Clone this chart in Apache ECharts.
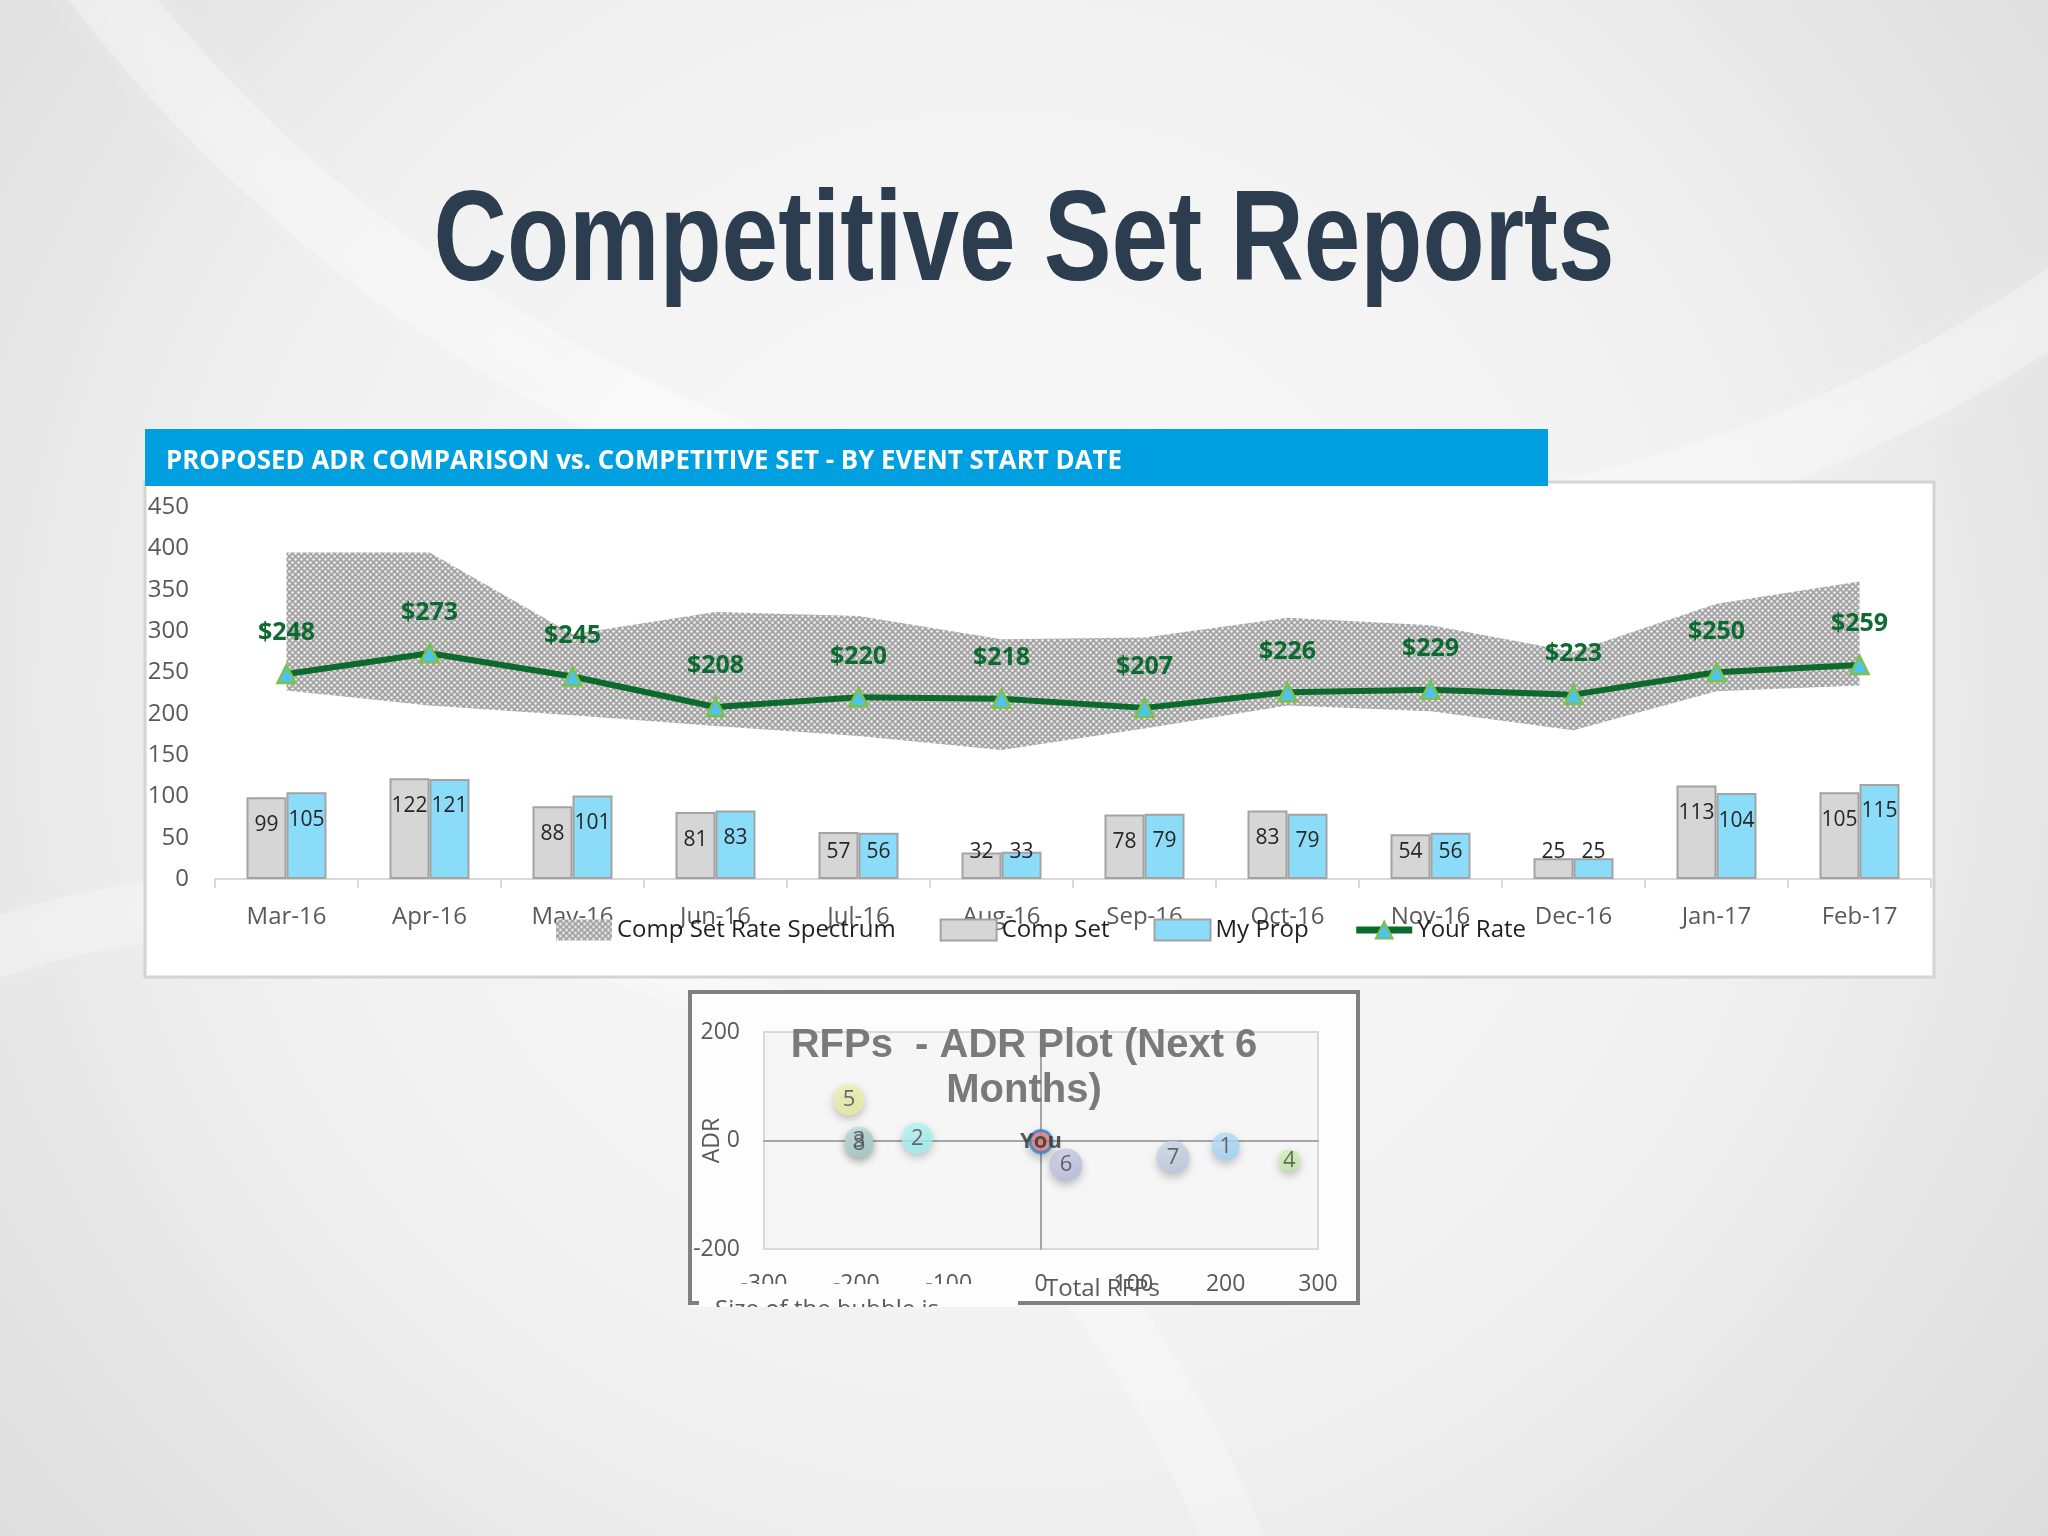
<!DOCTYPE html>
<html>
<head>
<meta charset="utf-8">
<title>Competitive Set Reports</title>
<script src="https://cdn.jsdelivr.net/npm/echarts@6/dist/echarts.min.js"></script>
<style>
  html, body { margin: 0; padding: 0; }
  #main { width: 2048px; height: 1536px; }
</style>
</head>
<body>
<div id="main"></div>
<script>
// ---------- data ----------
var months = ['Mar-16', 'Apr-16', 'May-16', 'Jun-16', 'Jul-16', 'Aug-16',
              'Sep-16', 'Oct-16', 'Nov-16', 'Dec-16', 'Jan-17', 'Feb-17'];
var compSetLow  = [228, 210, 198, 185, 173, 156, 182, 210, 203, 180, 227, 234];
var compSetHigh = [395, 395, 296, 323, 318, 290, 292, 316, 307, 275, 333, 360];
var compSet = [99, 122, 88, 81, 57, 32, 78, 83, 54, 25, 113, 105];
var myProp  = [105, 121, 101, 83, 56, 33, 79, 79, 56, 25, 104, 115];
var yourRate = [248, 273, 245, 208, 220, 218, 207, 226, 229, 223, 250, 259];

// bubble plot: total RFPs (x), ADR (y), bubble size
var bubbleNames = ['1', '2', '3', '4', '5', '6', '7', '8', 'You'];
var bubbleRfps  = [200, -134, -197, 269, -208, 27, 143, -197, 0];
var bubbleAdr   = [-11, 4, 0, -37, 75, -45, -31, -6, -2];
var bubbleSize  = [28, 31, 28, 22, 31, 33, 33, 28, 22];
var bubbleColors = ['#98d3f7', '#97f1f1', '#acd6d1', '#bcec9b', '#e4ef98',
                    '#b3bbdb', '#b7c7dd', '#a3cbc7', '#f28484'];

// ---------- helpers ----------
function fitScale(text, font, target) {
  var ctx = document.createElement('canvas').getContext('2d');
  ctx.font = font;
  return target / ctx.measureText(text).width;
}

function mix(hex, w) {
  var c = parseInt(hex.slice(1), 16);
  var r = (c >> 16) & 255, g = (c >> 8) & 255, b = c & 255;
  r = Math.round(r + (255 - r) * w);
  g = Math.round(g + (255 - g) * w);
  b = Math.round(b + (255 - b) * w);
  return 'rgb(' + r + ',' + g + ',' + b + ')';
}

// dotted fill of the rate spectrum band
var dotCanvas = document.createElement('canvas');
dotCanvas.width = 6;
dotCanvas.height = 6;
var dc = dotCanvas.getContext('2d');
dc.fillStyle = '#a4a4a4';
dc.fillRect(0, 0, 6, 6);
dc.fillStyle = '#f4f4f4';
dc.beginPath(); dc.arc(1.5, 1.5, 1.3, 0, Math.PI * 2); dc.fill();
dc.beginPath(); dc.arc(4.5, 4.5, 1.3, 0, Math.PI * 2); dc.fill();
var bandPattern = { image: dotCanvas, repeat: 'repeat' };

var bgGradient = {
  type: 'radial', x: 1000, y: 700, r: 1350, global: true,
  colorStops: [
    { offset: 0, color: '#fbfbfb' },
    { offset: 0.55, color: '#f1f1f1' },
    { offset: 1, color: '#dcdcdc' }
  ]
};

var titleText = 'Competitive Set Reports';
var titleFont = 'bold 128px "Liberation Sans"';
var headerText = 'PROPOSED ADR COMPARISON vs. COMPETITIVE SET - BY EVENT START DATE';
var headerFont = 'bold 26px "Open Sans"';

var bandRange = compSetHigh.map(function (v, i) { return v - compSetLow[i]; });

function barData(values) {
  return values.map(function (v) {
    return {
      value: v,
      label: v >= 60 ? { position: 'insideTop', distance: 17 }
                     : { position: 'insideBottom', distance: 16 }
    };
  });
}

var bubbleData = bubbleNames.map(function (n, i) {
  var item = {
    name: n,
    value: [bubbleRfps[i], bubbleAdr[i], bubbleSize[i]],
    itemStyle: {
      color: {
        type: 'radial', x: 0.4, y: 0.35, r: 0.75,
        colorStops: [
          { offset: 0, color: mix(bubbleColors[i], 0.35) },
          { offset: 1, color: bubbleColors[i] }
        ]
      }
    }
  };
  if (n === 'You') {
    item.itemStyle = { color: bubbleColors[i], borderColor: '#2f86d4', borderWidth: 3 };
    item.label = { fontWeight: 'bold', color: '#333333' };
  }
  return item;
});

var chart = echarts.init(document.getElementById('main'));

var axisText = { fontFamily: 'Open Sans', fontSize: 24, color: '#595959' };

var option = {
  animation: false,
  graphic: [
    { type: 'rect', z: -100, shape: { x: 0, y: 0, width: 2048, height: 1536 },
      style: { fill: bgGradient } },
    { type: 'circle', z: -99, shape: { cx: 1250, cy: -900, r: 1450 },
      style: { fill: 'rgba(255,255,255,0)', stroke: 'rgba(255,255,255,0.3)', lineWidth: 70,
               shadowBlur: 40, shadowColor: 'rgba(255,255,255,0.6)' } },
    { type: 'circle', z: -99, shape: { cx: 300, cy: 1900, r: 1000 },
      style: { fill: 'rgba(255,255,255,0)', stroke: 'rgba(255,255,255,0.25)', lineWidth: 60,
               shadowBlur: 40, shadowColor: 'rgba(255,255,255,0.5)' } },
    // main title
    { type: 'text', z: 5, x: 1024, y: 245, scaleX: fitScale(titleText, titleFont, 1181),
      style: { text: titleText, font: titleFont, fill: '#2c3d50',
               textAlign: 'center', textVerticalAlign: 'middle' } },
    // top chart frame and header
    { type: 'rect', z: -10, shape: { x: 145, y: 482, width: 1789, height: 495 },
      style: { fill: '#ffffff', stroke: '#d4d4d4', lineWidth: 3 } },
    { type: 'rect', z: -9, shape: { x: 145, y: 429, width: 1403, height: 57 },
      style: { fill: '#009fe0' } },
    { type: 'text', z: -8, x: 166, y: 462, scaleX: fitScale(headerText, headerFont, 956),
      style: { text: headerText, font: headerFont, fill: '#ffffff',
               textAlign: 'left', textVerticalAlign: 'middle' } },
    // bubble chart frame
    { type: 'rect', z: -10, shape: { x: 690, y: 992, width: 668, height: 311 },
      style: { fill: '#fdfdfd', stroke: '#808080', lineWidth: 4 } },
    { type: 'text', z: 10, x: 1024, y: 1068,
      style: { text: 'RFPs  - ADR Plot (Next 6\nMonths)', font: 'bold 40px "Liberation Sans"',
               lineHeight: 45, fill: '#7a7a7a', textAlign: 'center', textVerticalAlign: 'middle' } },
    { type: 'text', z: 10, x: 1045, y: 1289,
      style: { text: 'Total RFPs', font: '24px "Open Sans"', fill: '#595959',
               textAlign: 'left', textVerticalAlign: 'middle' } },
    // cut-off lower left corner of the bubble chart
    { type: 'rect', z: 50, shape: { x: 693, y: 1284, width: 325, height: 24 },
      style: { fill: '#fdfdfd' } },
    { type: 'text', z: 51, x: 715, y: 1310,
      style: { text: 'Size of the bubble is', font: '24px "Open Sans"', fill: '#595959',
               textAlign: 'left', textVerticalAlign: 'middle' } },
    { type: 'rect', z: 52, shape: { x: 692, y: 1307, width: 326, height: 30 },
      style: { fill: bgGradient } },
    { type: 'line', z: 53, shape: { x1: 690, y1: 1303, x2: 699, y2: 1303 },
      style: { stroke: '#808080', lineWidth: 4 } }
  ],
  legend: {
    left: 551,
    top: 913,
    itemWidth: 56,
    itemHeight: 21,
    itemGap: 44,
    textStyle: { fontFamily: 'Open Sans', fontSize: 24, color: '#1f1f1f' },
    data: [
      { name: 'Comp Set Rate Spectrum', icon: 'rect',
        itemStyle: { color: bandPattern, borderWidth: 0 } },
      { name: 'Comp Set', icon: 'rect' },
      { name: 'My Prop', icon: 'rect' },
      { name: 'Your Rate', lineStyle: { width: 7, color: '#0b6a2c' } }
    ]
  },
  grid: [
    { left: 215, right: 117, top: 507, bottom: 657 },
    { left: 764, right: 730, top: 1032, bottom: 287, show: true,
      backgroundColor: '#f6f6f6', borderColor: '#d9d9d9', borderWidth: 2 }
  ],
  xAxis: [
    {
      type: 'category', gridIndex: 0, data: months, boundaryGap: true,
      axisLine: { lineStyle: { color: '#d9d9d9', width: 2 } },
      axisTick: { show: true, length: 9, interval: 0, lineStyle: { color: '#d9d9d9', width: 2 } },
      axisLabel: Object.assign({ margin: 26, interval: 0 }, axisText)
    },
    {
      type: 'value', gridIndex: 1, min: -300, max: 300, interval: 100,
      axisLine: { show: false, onZero: false },
      axisTick: { show: false }, splitLine: { show: false },
      axisLabel: Object.assign({ margin: 24 }, axisText, { fontSize: 23 })
    },
    {
      type: 'value', gridIndex: 1, min: -300, max: 300,
      axisLine: { show: true, onZero: true, onZeroAxisIndex: 1,
                  lineStyle: { color: '#a6a6a6', width: 2 } },
      axisTick: { show: false }, axisLabel: { show: false }, splitLine: { show: false }
    }
  ],
  yAxis: [
    {
      type: 'value', gridIndex: 0, min: 0, max: 450, interval: 50,
      axisLine: { show: false }, axisTick: { show: false }, splitLine: { show: false },
      axisLabel: Object.assign({ margin: 26 }, axisText)
    },
    {
      type: 'value', gridIndex: 1, min: -200, max: 200, interval: 200,
      name: 'ADR', nameLocation: 'middle', nameGap: 40, nameRotate: 90,
      nameMoveOverlap: false,
      nameTextStyle: { fontFamily: 'Open Sans', fontSize: 23, color: '#595959' },
      axisLine: { show: false, onZero: false },
      axisTick: { show: false }, splitLine: { show: false },
      axisLabel: Object.assign({ margin: 24 }, axisText, { fontSize: 23 })
    },
    {
      type: 'value', gridIndex: 1, min: -200, max: 200,
      axisLine: { show: true, onZero: true, onZeroAxisIndex: 1,
                  lineStyle: { color: '#a6a6a6', width: 2 } },
      axisTick: { show: false }, axisLabel: { show: false }, splitLine: { show: false }
    }
  ],
  series: [
    {
      name: 'Comp Set Low', type: 'line', xAxisIndex: 0, yAxisIndex: 0,
      stack: 'band', data: compSetLow, symbol: 'none', silent: true,
      lineStyle: { opacity: 0 }
    },
    {
      name: 'Comp Set Rate Spectrum', type: 'line', xAxisIndex: 0, yAxisIndex: 0,
      stack: 'band', data: bandRange, symbol: 'none', silent: true,
      itemStyle: { color: '#a8a8a8' },
      lineStyle: { opacity: 0 },
      areaStyle: { color: bandPattern, opacity: 1 }
    },
    {
      name: 'Comp Set', type: 'bar', xAxisIndex: 0, yAxisIndex: 0,
      data: barData(compSet), barWidth: 40, barGap: '0%',
      itemStyle: { color: '#d6d6d6', borderColor: '#a3a3a3', borderWidth: 2 },
      label: { show: true, fontFamily: 'Open Sans', fontSize: 21, color: '#262626' }
    },
    {
      name: 'My Prop', type: 'bar', xAxisIndex: 0, yAxisIndex: 0,
      data: barData(myProp), barWidth: 40, barGap: '0%',
      itemStyle: { color: '#8adcf8', borderColor: '#a3a3a3', borderWidth: 2 },
      label: { show: true, fontFamily: 'Open Sans', fontSize: 21, color: '#262626' }
    },
    {
      name: 'Your Rate', type: 'line', xAxisIndex: 0, yAxisIndex: 0, z: 5,
      data: yourRate, symbol: 'triangle', symbolSize: 18,
      lineStyle: { color: '#0b6a2c', width: 6 },
      itemStyle: { color: '#4fc3ef', borderColor: '#7cc24a', borderWidth: 2.5 },
      label: {
        show: true, position: 'top', distance: 18, formatter: '${c}',
        fontFamily: 'Open Sans', fontWeight: 'bold', fontSize: 25, color: '#0d6b31'
      }
    },
    {
      name: 'RFPs', type: 'scatter', xAxisIndex: 1, yAxisIndex: 1, z: 4,
      data: bubbleData,
      symbolSize: function (v) { return v[2]; },
      itemStyle: { shadowBlur: 8, shadowOffsetY: 4, shadowColor: 'rgba(0,0,0,0.28)' },
      label: {
        show: true, position: 'inside', formatter: '{b}',
        fontFamily: 'Open Sans', fontSize: 22, color: '#4a4a4a'
      }
    }
  ]
};

chart.setOption(option);
</script>
</body>
</html>
